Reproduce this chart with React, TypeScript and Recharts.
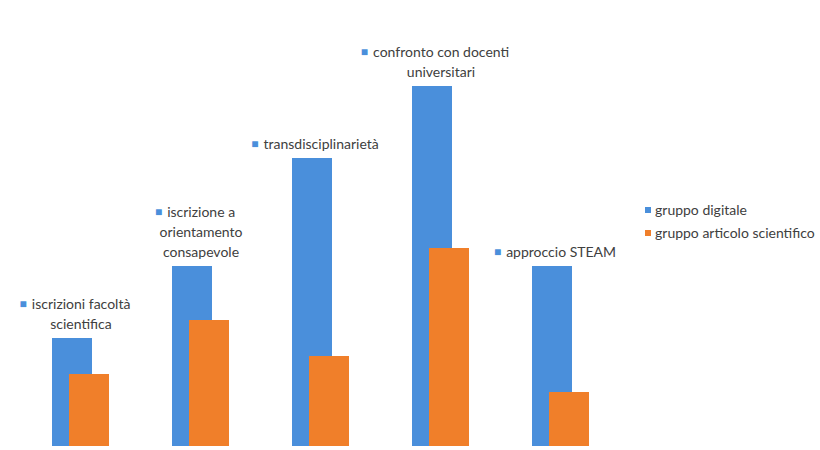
import React from "react";
import { BarChart, Bar, XAxis, YAxis, LabelList } from "recharts";

const categories: string[][] = [
  ["iscrizioni facoltà", "scientifica"],
  ["iscrizione a", "orientamento", "consapevole"],
  ["transdisciplinarietà"],
  ["confronto con docenti", "universitari"],
  ["approccio STEAM"],
];
const gruppoDigitale = [3, 5, 8, 10, 5];
const gruppoArticolo = [2, 3.5, 2.5, 5.5, 1.5];
const seriesNames = ["gruppo digitale", "gruppo articolo scientifico"];

const BLUE = "#4a8fdb";
const ORANGE = "#f07f2a";
const FONT = "Lato, 'Open Sans', sans-serif";
const TEXT = "#404040";

const data = categories.map((c, i) => ({
  key: c.join(" "),
  lines: c,
  digitale: gruppoDigitale[i],
  articolo: gruppoArticolo[i],
}));

const CategoryLabel = (props: any) => {
  const { x, y, width, index } = props;
  const lines: string[] = data[index].lines;
  const lh = 20;
  const cx = x + width / 2 + 3;
  const lastY = y - 15;
  const firstY = lastY - (lines.length - 1) * lh;
  return (
    <g fontFamily={FONT} fontSize={14} fill={TEXT}>
      {lines.map((l, i) =>
        i === 0 ? (
          <text key={i} x={cx} y={firstY} textAnchor="middle" dominantBaseline="central">
            <tspan fill={BLUE} fontSize={12}>■</tspan>
            <tspan dx={5}>{l}</tspan>
          </text>
        ) : (
          <text key={i} x={cx + 6} y={firstY + i * lh} textAnchor="middle" dominantBaseline="central">
            {l}
          </text>
        )
      )}
    </g>
  );
};

export default function App() {
  return (
    <div style={{ position: "fixed", left: 0, top: 0, width: 820, height: 450, background: "#fff" }}>
      <BarChart
        width={820}
        height={450}
        data={data}
        margin={{ top: 86, right: 200, left: 20, bottom: 4 }}
        barGap={-23}
      >
        <XAxis dataKey="key" hide />
        <YAxis domain={[0, 10]} hide />
        <Bar dataKey="digitale" name={seriesNames[0]} fill={BLUE} barSize={40} isAnimationActive={false}>
          <LabelList dataKey="digitale" content={<CategoryLabel />} />
        </Bar>
        <Bar dataKey="articolo" name={seriesNames[1]} fill={ORANGE} barSize={40} isAnimationActive={false} />
      </BarChart>
      <div
        style={{
          position: "absolute",
          left: 645,
          top: 198,
          fontFamily: FONT,
          fontSize: 14,
          color: TEXT,
          whiteSpace: "nowrap",
        }}
      >
        {seriesNames.map((n, i) => (
          <div key={n} style={{ display: "flex", alignItems: "center", height: 23 }}>
            <span style={{ display: "inline-block", flex: "none", width: 6, height: 6, background: i === 0 ? BLUE : ORANGE, marginRight: 4 }} />
            <span>{n}</span>
          </div>
        ))}
      </div>
    </div>
  );
}
